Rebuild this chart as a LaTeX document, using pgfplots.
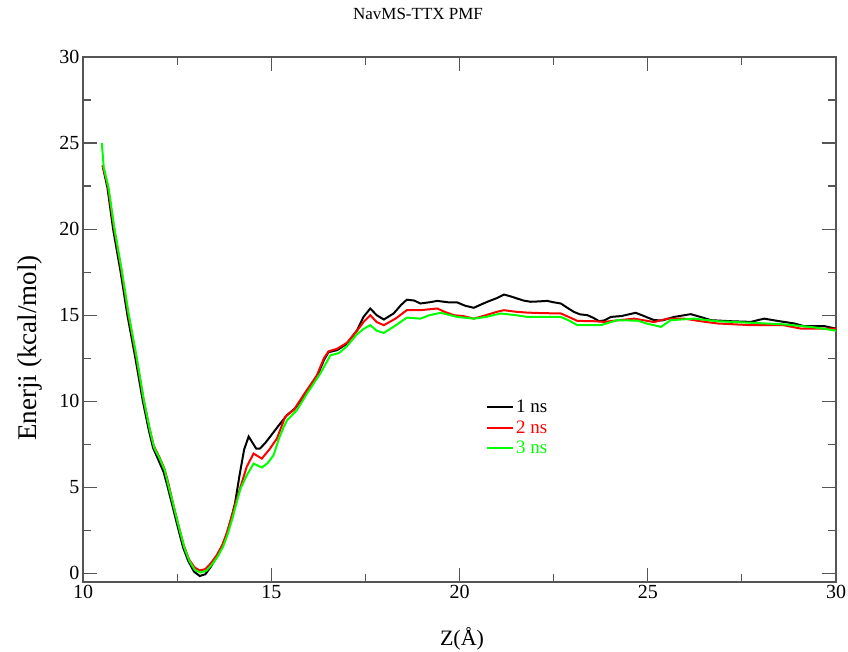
\documentclass[border=0pt]{standalone}
\usepackage{fontspec}
\setmainfont{Liberation Serif}
\usepackage{pgfplots}
\pgfplotsset{compat=1.18}

\definecolor{grblack}{HTML}{000000}
\definecolor{grred}{HTML}{FF0000}
\definecolor{grgreen}{HTML}{00FF00}
\definecolor{frame}{HTML}{555555}

\begin{document}
\begin{tikzpicture}[x=1pt,y=1pt]
\begin{axis}[
    at={(83pt,69pt)}, anchor=south west,
    scale only axis, width=753pt, height=525pt,
    xmin=10, xmax=30, ymin=-0.5, ymax=30,
    xtick={10,15,...,30}, ytick={0,5,...,30},
    minor x tick num=1, minor y tick num=1,
    tick align=inside,
    major tick length=14pt, minor tick length=8pt,
    axis line style={draw=frame, line width=1.4pt},
    every tick/.style={frame, line width=1.2pt},
    tick label style={font=\fontsize{20}{24}\selectfont},
    /pgf/number format/assume math mode=true,
    legend style={at={(0.535,0.350)}, anchor=north west, draw=none, fill=none,
        font=\fontsize{19}{21}\selectfont, inner sep=0pt, row sep=2pt},
    legend cell align=left,
    legend image code/.code={\draw[#1] (0pt,0pt) -- (26pt,0pt);},
]
\addplot[grblack, line width=2pt] coordinates {
(10.52,23.7) (10.65,22.4) (10.80,20.0) (11.00,17.5) (11.18,15.0) (11.40,12.4)
(11.59,10.0) (11.75,8.3) (11.86,7.3) (12.00,6.6) (12.14,5.9) (12.24,5.1)
(12.39,3.8) (12.54,2.5) (12.66,1.5) (12.80,0.7) (12.95,0.1) (13.10,-0.15)
(13.25,-0.05) (13.40,0.4) (13.55,0.95) (13.70,1.6) (13.82,2.3) (13.95,3.3)
(14.04,4.1) (14.15,5.6) (14.28,7.2) (14.40,7.95) (14.50,7.6) (14.60,7.25)
(14.70,7.25) (14.85,7.6) (15.06,8.2) (15.20,8.6) (15.42,9.2) (15.64,9.6)
(15.90,10.4) (16.21,11.4) (16.40,12.4) (16.52,12.85) (16.75,12.97) (17.01,13.35)
(17.28,14.13) (17.45,14.9) (17.63,15.39) (17.80,15.0) (17.99,14.75) (18.25,15.1)
(18.45,15.6) (18.60,15.9) (18.80,15.85) (18.96,15.68) (19.20,15.75) (19.41,15.83)
(19.70,15.75) (19.94,15.74) (20.15,15.55) (20.38,15.43) (20.55,15.6) (20.74,15.78)
(21.00,16.0) (21.18,16.2) (21.35,16.1) (21.53,15.97) (21.70,15.85) (21.89,15.78)
(22.10,15.8) (22.33,15.83) (22.50,15.75) (22.69,15.68) (22.85,15.45) (23.04,15.19)
(23.20,15.05) (23.40,15.0) (23.55,14.85) (23.71,14.65) (23.85,14.7) (24.02,14.9)
(24.30,14.95) (24.68,15.14) (24.90,14.95) (25.17,14.71) (25.40,14.7) (25.70,14.9)
(26.14,15.06) (26.40,14.9) (26.68,14.71) (27.20,14.65) (27.74,14.61) (28.09,14.8)
(28.50,14.65) (28.89,14.52) (29.16,14.36) (29.70,14.36) (30.00,14.22)
};
\addlegendentry{\textcolor{grblack}{1 ns}}
\addplot[grred, line width=2pt] coordinates {
(10.52,23.7) (10.66,22.5) (10.82,20.1) (11.02,17.6) (11.20,15.1) (11.42,12.5)
(11.61,10.1) (11.77,8.4) (11.88,7.4) (12.02,6.8) (12.16,6.1) (12.26,5.3)
(12.41,3.9) (12.56,2.6) (12.68,1.6) (12.82,0.8) (12.96,0.35) (13.10,0.17)
(13.25,0.25) (13.40,0.6) (13.55,1.05) (13.70,1.65) (13.82,2.35) (13.95,3.3)
(14.04,4.0) (14.18,5.0) (14.35,6.2) (14.53,6.96) (14.75,6.67) (14.95,7.2)
(15.15,7.83) (15.37,9.1) (15.60,9.5) (15.90,10.5) (16.21,11.5) (16.40,12.5)
(16.52,12.9) (16.75,13.05) (17.01,13.4) (17.28,14.1) (17.45,14.6) (17.63,15.0)
(17.80,14.6) (17.99,14.42) (18.30,14.8) (18.60,15.29) (18.96,15.29) (19.41,15.39)
(19.60,15.2) (19.85,15.0) (20.10,14.95) (20.38,14.8) (20.70,15.0) (21.00,15.2)
(21.18,15.29) (21.50,15.2) (21.80,15.15) (22.20,15.12) (22.69,15.1) (22.90,14.9)
(23.13,14.67) (23.57,14.65) (23.84,14.61) (24.20,14.7) (24.64,14.8) (25.17,14.6)
(25.52,14.8) (25.97,14.8) (26.40,14.65) (26.85,14.52) (27.30,14.47) (27.74,14.42)
(28.60,14.42) (29.07,14.22) (30.00,14.22)
};
\addlegendentry{\textcolor{grred}{2 ns}}
\addplot[grgreen, line width=2pt] coordinates {
(10.50,25.0) (10.55,23.6) (10.68,22.4) (10.83,20.1) (11.03,17.6) (11.21,15.1)
(11.43,12.5) (11.62,10.0) (11.78,8.3) (11.89,7.3) (12.03,6.7) (12.17,6.0)
(12.27,5.1) (12.42,3.8) (12.57,2.5) (12.69,1.5) (12.83,0.7) (12.97,0.2)
(13.12,0.05) (13.27,0.15) (13.42,0.5) (13.57,0.95) (13.72,1.55) (13.84,2.25)
(13.97,3.2) (14.06,3.95) (14.18,4.9) (14.35,5.7) (14.53,6.38) (14.75,6.15)
(14.90,6.4) (15.06,6.86) (15.20,7.8) (15.33,8.5) (15.42,8.9) (15.68,9.48)
(15.95,10.45) (16.30,11.6) (16.57,12.67) (16.80,12.8) (17.01,13.2) (17.28,13.9)
(17.45,14.2) (17.63,14.42) (17.80,14.1) (17.99,13.97) (18.30,14.4) (18.60,14.86)
(18.96,14.8) (19.20,15.0) (19.50,15.14) (19.94,14.9) (20.38,14.8) (20.70,14.9)
(21.09,15.1) (21.50,15.0) (21.80,14.9) (22.69,14.9) (22.90,14.7) (23.13,14.42)
(23.75,14.42) (24.19,14.71) (24.73,14.68) (25.00,14.5) (25.35,14.32) (25.61,14.71)
(26.23,14.8) (26.85,14.65) (27.74,14.56) (28.60,14.47) (29.40,14.3) (30.00,14.1)
};
\addlegendentry{\textcolor{grgreen}{3 ns}}
\end{axis}
\node[font=\fontsize{17}{20}\selectfont] at (418pt,637pt) {NavMS-TTX PMF};
\node[font=\fontsize{27}{32}\selectfont, rotate=90] at (30pt,303pt) {Enerji (kcal/mol)};
\node[font=\fontsize{22}{26}\selectfont, anchor=south, inner sep=1pt] at (462pt,0pt) {Z(Å)};
\pgfresetboundingbox
\path[use as bounding box] (0pt,0pt) rectangle (848pt,651pt);
\end{tikzpicture}
\end{document}
